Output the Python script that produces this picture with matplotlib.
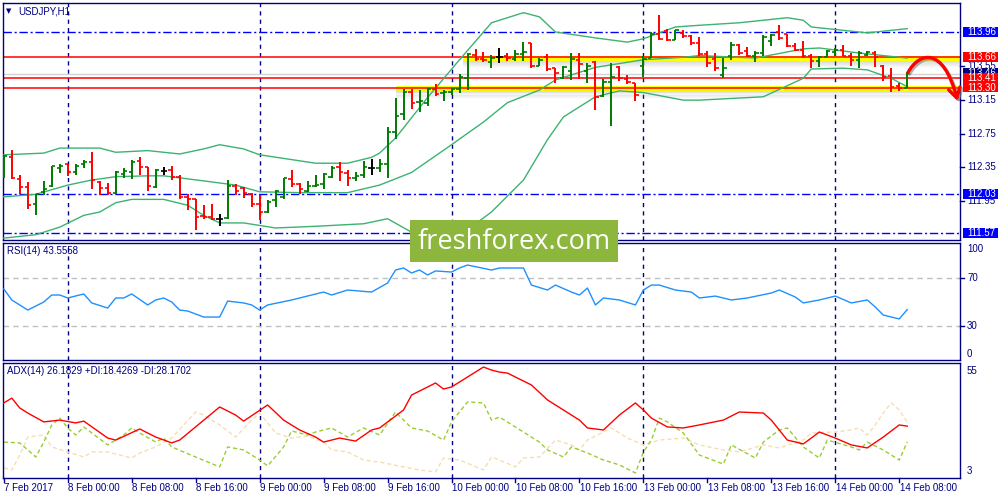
import matplotlib
matplotlib.use('Agg')
import matplotlib.pyplot as plt
import matplotlib.patheffects as pe
from matplotlib.patches import Rectangle, FancyArrowPatch
from matplotlib.path import Path
from matplotlib.transforms import blended_transform_factory
import numpy as np

plt.rcParams['font.family'] = ['Liberation Sans', 'DejaVu Sans']

symbol = 'USDJPY,H1'
rsi_title = 'RSI(14) 43.5558'
adx_title = 'ADX(14) 26.1829 +DI:18.4269 -DI:28.1702'

# hourly bars, 7 Feb 16:00 .. 14 Feb 09:00
opens = [112.26, 112.47, 112.21, 112.12, 111.91, 112.06, 112.13, 112.34, 112.39, 112.30,
         112.39, 112.41, 112.18, 112.11, 112.04, 112.27, 112.30, 112.43, 112.35, 112.12,
         112.31, 112.32, 112.24, 112.00, 111.97, 111.77, 111.76, 111.74, 111.75, 112.13,
         112.10, 112.03, 111.92, 111.82, 111.96, 112.00, 112.21, 112.15, 112.07, 112.13,
         112.15, 112.24, 112.35, 112.28, 112.23, 112.26, 112.34, 112.34, 112.39, 112.77,
         112.99, 113.25, 113.13, 113.12, 113.28, 113.23, 113.25, 113.28, 113.41, 113.69,
         113.64, 113.60, 113.66, 113.68, 113.64, 113.70, 113.83, 113.55, 113.66, 113.53,
         113.41, 113.50, 113.63, 113.50, 113.60, 113.20, 113.36, 113.54, 113.40, 113.35,
         113.55, 113.65, 113.94, 113.97, 113.87, 113.95, 113.91, 113.83, 113.70, 113.64,
         113.45, 113.67, 113.81, 113.73, 113.67, 113.71, 113.85, 113.96, 113.94, 113.79,
         113.75, 113.67, 113.61, 113.66, 113.72, 113.75, 113.67, 113.63, 113.69, 113.71,
         113.55, 113.44, 113.32, 113.29]
highs = [112.50, 112.56, 112.26, 112.18, 112.03, 112.19, 112.37, 112.39, 112.39, 112.39,
         112.44, 112.53, 112.19, 112.16, 112.31, 112.34, 112.44, 112.47, 112.36, 112.33,
         112.36, 112.37, 112.26, 112.03, 111.97, 111.90, 111.92, 111.80, 112.20, 112.15,
         112.12, 112.04, 112.02, 111.96, 112.08, 112.22, 112.32, 112.17, 112.19, 112.26,
         112.28, 112.37, 112.41, 112.32, 112.29, 112.43, 112.45, 112.45, 112.83, 113.18,
         113.28, 113.28, 113.27, 113.30, 113.34, 113.27, 113.29, 113.46, 113.71, 113.76,
         113.72, 113.69, 113.77, 113.71, 113.75, 113.84, 113.83, 113.65, 113.70, 113.53,
         113.55, 113.71, 113.71, 113.59, 113.61, 113.40, 113.59, 113.55, 113.45, 113.35,
         113.67, 113.96, 114.16, 113.99, 113.98, 113.98, 113.92, 113.90, 113.73, 113.71,
         113.65, 113.84, 113.82, 113.78, 113.73, 113.92, 113.94, 114.04, 113.94, 113.83,
         113.85, 113.70, 113.67, 113.75, 113.77, 113.81, 113.71, 113.73, 113.74, 113.73,
         113.57, 113.53, 113.35, 113.49]
lows = [112.23, 112.21, 112.03, 111.85, 111.78, 112.02, 112.12, 112.28, 112.25, 112.26,
        112.34, 112.09, 112.02, 112.02, 112.03, 112.23, 112.21, 112.26, 112.07, 112.11,
        112.26, 112.20, 111.97, 111.84, 111.61, 111.74, 111.72, 111.65, 111.74, 112.02,
        111.99, 111.88, 111.72, 111.81, 111.88, 111.98, 112.12, 112.03, 112.06, 112.12,
        112.09, 112.22, 112.19, 112.13, 112.19, 112.23, 112.26, 112.29, 112.22, 112.69,
        112.91, 113.05, 113.01, 113.08, 113.20, 113.14, 113.21, 113.24, 113.27, 113.61,
        113.60, 113.53, 113.59, 113.62, 113.61, 113.61, 113.53, 113.55, 113.50, 113.35,
        113.40, 113.39, 113.40, 113.35, 113.03, 113.19, 112.84, 113.38, 113.34, 113.14,
        113.43, 113.65, 113.86, 113.85, 113.87, 113.89, 113.81, 113.67, 113.54, 113.50,
        113.41, 113.63, 113.69, 113.66, 113.60, 113.67, 113.79, 113.87, 113.78, 113.73,
        113.65, 113.53, 113.54, 113.66, 113.67, 113.67, 113.55, 113.53, 113.67, 113.54,
        113.38, 113.25, 113.26, 113.29]
closes = [112.48, 112.22, 112.12, 111.90, 112.03, 112.09, 112.37, 112.37, 112.30, 112.37,
          112.41, 112.20, 112.11, 112.04, 112.29, 112.31, 112.42, 112.35, 112.13, 112.32,
          112.31, 112.24, 112.00, 111.98, 111.76, 111.76, 111.74, 111.74, 112.13, 112.07,
          112.05, 111.92, 111.82, 111.94, 112.07, 112.22, 112.15, 112.09, 112.13, 112.14,
          112.27, 112.34, 112.29, 112.22, 112.25, 112.36, 112.34, 112.39, 112.77, 112.96,
          113.25, 113.12, 113.14, 113.28, 113.22, 113.25, 113.28, 113.43, 113.70, 113.64,
          113.63, 113.65, 113.66, 113.65, 113.70, 113.72, 113.55, 113.63, 113.52, 113.47,
          113.54, 113.64, 113.58, 113.56, 113.19, 113.36, 113.42, 113.41, 113.36, 113.21,
          113.64, 113.94, 113.88, 113.86, 113.98, 113.91, 113.83, 113.70, 113.59, 113.53,
          113.53, 113.81, 113.71, 113.67, 113.71, 113.90, 113.92, 113.89, 113.79, 113.75,
          113.67, 113.61, 113.66, 113.74, 113.75, 113.67, 113.63, 113.71, 113.72, 113.66,
          113.43, 113.31, 113.30, 113.46]

# Bollinger bands (bar index, price)
bb_up_x = [0, 5, 7, 12, 14, 18, 22, 25, 27, 30, 32, 39, 43, 46, 47, 49, 53, 57, 61, 65, 67,
           69, 74, 78, 80, 84, 87, 92, 98, 100, 101, 105, 108, 111, 113]
bb_up = [112.50, 112.52, 112.58, 112.58, 112.53, 112.55, 112.51, 112.57, 112.62, 112.57,
         112.50, 112.40, 112.40, 112.47, 112.52, 112.70, 113.18, 113.63, 114.07, 114.19,
         114.14, 113.96, 113.89, 113.84, 113.88, 114.02, 114.04, 114.07, 114.13, 114.10,
         114.02, 113.98, 113.95, 113.98, 114.00]
bb_mid_x = [0, 4, 8, 11, 14, 18, 20, 25, 29, 32, 37, 43, 47, 51, 56, 60, 63, 67, 69, 74,
            80, 85, 87, 94, 100, 102, 107, 113]
bb_mid = [112.00, 112.03, 112.14, 112.20, 112.24, 112.25, 112.25, 112.19, 112.14, 112.06,
          112.05, 112.05, 112.14, 112.29, 112.62, 112.89, 113.12, 113.27, 113.39, 113.54,
          113.63, 113.66, 113.68, 113.65, 113.76, 113.77, 113.71, 113.65]
bb_low_x = [0, 4, 7, 10, 12, 14, 16, 20, 23, 25, 27, 30, 34, 39, 45, 48, 51, 55, 58, 61,
            65, 68, 70, 74, 77, 80, 85, 87, 95, 100, 101, 105, 108, 111, 113]
bb_low = [111.51, 111.55, 111.64, 111.78, 111.82, 111.93, 111.97, 111.97, 111.90, 111.78,
          111.69, 111.69, 111.63, 111.65, 111.68, 111.74, 111.58, 111.46, 111.61, 111.82,
          112.20, 112.68, 112.95, 113.19, 113.26, 113.24, 113.15, 113.15, 113.19, 113.41,
          113.52, 113.53, 113.51, 113.41, 113.31]

rsi_x = [0, 1, 3, 5, 6, 7, 8, 10, 11, 13, 14, 15, 16, 18, 19, 20, 21, 22, 23, 25, 27, 28,
         30, 31, 32, 33, 36, 37, 40, 41, 43, 46, 48, 49, 50, 51, 52, 53, 54, 56, 57, 58, 61,
         62, 65, 66, 68, 69, 71, 72, 73, 74, 75, 77, 79, 80, 81, 82, 84, 86, 87, 89, 91, 93,
         96, 97, 99, 100, 102, 104, 106, 108, 109, 110, 112, 113]
rsi = [61.0, 51.7, 43.2, 50.0, 55.9, 55.9, 53.4, 56.8, 49.2, 44.9, 53.4, 53.4, 56.8, 47.5,
       51.7, 53.4, 50.0, 43.2, 42.4, 37.3, 37.3, 50.8, 49.2, 47.5, 43.2, 47.5, 51.7, 53.4,
       58.4, 55.9, 60.1, 58.4, 66.0, 77.0, 78.7, 74.5, 77.0, 72.8, 76.2, 75.3, 78.7, 81.2,
       77.0, 78.7, 78.7, 64.3, 60.1, 64.3, 58.4, 55.9, 61.8, 47.5, 53.4, 51.7, 47.5, 60.1,
       64.3, 64.3, 60.1, 58.4, 53.4, 55.0, 51.7, 53.4, 57.6, 60.1, 54.2, 49.2, 51.7, 55.0,
       49.2, 51.7, 45.8, 39.0, 35.7, 43.6]

adx_x = [0, 1, 2, 3, 5, 7, 9, 10, 13, 14, 17, 19, 21, 22, 27, 29, 30, 33, 35, 37, 39, 40,
         42, 44, 46, 47, 50, 51, 54, 55, 56, 60, 61, 62, 63, 66, 68, 70, 72, 73, 75, 77, 79,
         80, 81, 83, 85, 87, 90, 92, 95, 96, 98, 100, 101, 102, 104, 106, 108, 110, 112, 113]
adx = [37.7, 40.1, 35.2, 32.7, 28.3, 29.2, 27.8, 28.7, 20.3, 19.3, 24.8, 20.8, 17.9, 19.3,
       35.7, 31.7, 28.7, 36.7, 29.2, 24.3, 20.8, 18.3, 20.3, 18.8, 24.3, 25.3, 34.2, 41.6,
       47.6, 44.6, 45.6, 55.5, 54.0, 53.0, 52.5, 46.6, 39.2, 34.2, 29.2, 25.3, 24.3, 31.7,
       37.7, 34.2, 30.2, 25.8, 25.3, 26.8, 29.2, 33.2, 32.7, 29.2, 19.3, 17.4, 20.3, 23.3,
       20.3, 16.9, 15.4, 20.8, 26.8, 26.2]
pdi_x = [0, 2, 4, 5, 6, 7, 8, 9, 10, 13, 15, 16, 17, 19, 20, 21, 24, 27, 28, 30, 32, 33,
         35, 36, 38, 39, 41, 43, 45, 47, 49, 51, 53, 55, 56, 58, 60, 61, 62, 67, 68, 70, 71,
         73, 75, 77, 79, 80, 81, 82, 83, 85, 87, 90, 91, 94, 95, 97, 98, 100, 102, 103, 106,
         107, 108, 110, 112, 113]
pdi = [18.3, 17.9, 10.9, 18.3, 26.8, 30.2, 25.3, 21.8, 25.8, 16.9, 21.8, 25.3, 22.8, 18.3,
       20.3, 15.9, 10.9, 6.0, 15.9, 14.4, 9.4, 6.5, 15.9, 23.8, 21.8, 23.3, 25.3, 20.8, 25.3,
       21.8, 33.2, 25.3, 23.8, 19.3, 28.3, 38.2, 37.7, 29.2, 30.7, 18.3, 14.4, 10.9, 15.9,
       12.9, 9.4, 7.0, 3.0, 13.4, 19.3, 30.2, 28.3, 22.8, 11.9, 7.4, 16.9, 10.4, 18.3, 24.3,
       25.3, 15.9, 10.4, 19.3, 15.9, 14.4, 18.3, 14.4, 9.4, 18.4]
mdi_x = [0, 1, 2, 3, 5, 6, 8, 10, 11, 13, 16, 17, 19, 21, 24, 25, 27, 29, 31, 32, 34, 36,
         38, 40, 41, 43, 45, 47, 50, 52, 54, 55, 57, 60, 61, 62, 64, 65, 67, 69, 71, 72, 73,
         75, 76, 78, 80, 82, 85, 87, 90, 92, 95, 97, 100, 101, 104, 106, 107, 108, 109, 110,
         111, 112, 113]
mdi = [5.5, 4.5, 11.9, 20.8, 21.8, 15.9, 13.4, 10.9, 13.4, 13.4, 10.4, 12.9, 15.9, 20.3,
       33.2, 31.7, 26.8, 20.8, 29.2, 32.7, 22.8, 20.3, 21.3, 18.3, 14.4, 13.4, 9.4, 8.4, 6.0,
       4.5, 3.5, 10.4, 9.4, 4.5, 10.9, 9.4, 6.0, 10.4, 10.9, 19.3, 16.9, 14.4, 19.3, 23.3,
       25.3, 20.3, 16.9, 19.3, 20.3, 16.9, 14.4, 13.4, 16.9, 15.4, 19.3, 22.8, 23.3, 24.3,
       25.3, 21.8, 26.8, 32.7, 37.7, 34.2, 28.2]

day_starts = [8, 32, 56, 80, 104]
time_labels = ['7 Feb 2017', '8 Feb 00:00', '8 Feb 08:00', '8 Feb 16:00', '9 Feb 00:00',
               '9 Feb 08:00', '9 Feb 16:00', '10 Feb 00:00', '10 Feb 08:00', '10 Feb 16:00',
               '13 Feb 00:00', '13 Feb 08:00', '13 Feb 16:00', '14 Feb 00:00', '14 Feb 08:00']
time_label_x = [0, 8, 16, 24, 32, 40, 48, 56, 64, 72, 80, 88, 96, 104, 112]

price_ticks = [113.55, 113.15, 112.75, 112.35, 111.95]
blue_levels = [113.96, 112.03, 111.57]
red_levels = [113.66, 113.41, 113.30]
bid = 113.46

navy = '#000080'
bar_green = '#007a00'
band_col = '#3cb371'

fig = plt.figure(figsize=(10, 5), dpi=100)


def panel(top, bottom):
    ax = fig.add_axes([3 / 1000, 1 - bottom / 500, 957 / 1000, (bottom - top) / 500])
    ax.set_xlim(-0.1, 119.6)
    ax.set_xticks([])
    ax.set_yticks([])
    for s in ax.spines.values():
        s.set_color(navy)
        s.set_linewidth(1)
    for d in day_starts:
        ax.axvline(d, color=navy, lw=1, ls=(0, (3, 3)), zorder=1)
    return ax


ax_p = panel(3, 240)
ax_r = panel(243, 360)
ax_a = panel(363, 478)

# ---- price panel
ax_p.set_ylim(111.487, 114.305)
tr_p = blended_transform_factory(ax_p.transAxes, ax_p.transData)

for lv in blue_levels:
    ax_p.axhline(lv, color='#0000ff', lw=1, ls=(0, (6, 2, 1.5, 2)), zorder=2)
ax_p.axhline(bid, color='#d3d3d3', lw=1, zorder=2)

# highlighted zones with a soft shadow
for lv, x0 in [(113.66, 57.4), (113.30, 49)]:
    for k in range(8):
        ax_p.hlines(lv - 0.035 - k * 0.012, x0, 119.6, color='gray', lw=1.2,
                    alpha=0.22 * (1 - k / 8), zorder=2)
    ax_p.hlines(lv - 0.01, x0, 119.6, color='#ffff00', lw=3.6, zorder=2)
for lv in red_levels:
    ax_p.axhline(lv, color='#ff0000', lw=1.1, zorder=2.5)

ax_p.plot(bb_up_x, bb_up, color=band_col, lw=1, zorder=2.6)
ax_p.plot(bb_mid_x, bb_mid, color=band_col, lw=1, zorder=2.6)
ax_p.plot(bb_low_x, bb_low, color=band_col, lw=1, zorder=2.6)

idx = np.arange(len(opens))
o = np.array(opens)
c = np.array(closes)
cols = np.where(c > o, bar_green, np.where(c < o, '#ff0000', '#000000'))
ax_p.vlines(idx, lows, highs, colors=cols, lw=1.4, zorder=3)
ax_p.hlines(o, idx - 0.4, idx, colors=cols, lw=1.2, zorder=3)
ax_p.hlines(c, idx, idx + 0.4, colors=cols, lw=1.2, zorder=3)

# curved forecast arrow
arrow_path = Path([(113.1, 113.48), (114.5, 113.72), (117.5, 113.80), (119.3, 113.14)],
                  [Path.MOVETO, Path.CURVE4, Path.CURVE4, Path.CURVE4])
arr = FancyArrowPatch(path=arrow_path, arrowstyle='->,head_length=0.5,head_width=0.3',
                      mutation_scale=14, color='#ff0000', lw=2.4, clip_on=False, zorder=6,
                      path_effects=[pe.SimpleLineShadow(offset=(1.2, -1.2),
                                                        shadow_color='gray', alpha=0.6),
                                    pe.Normal()])
ax_p.add_patch(arr)

# right scale
for v in price_ticks:
    ax_p.plot([1, 1.004], [v, v], color=navy, lw=1, transform=tr_p, clip_on=False)
    ax_p.text(1.0073, v, '%.2f' % v, transform=tr_p, fontsize=7, color=navy,
              va='center', ha='left', zorder=6)


def level_box(v, col, z, txt=None):
    ax_p.add_patch(Rectangle((1.0031, v - 0.058), 0.0366, 0.116, transform=tr_p,
                             facecolor=col, edgecolor='none', clip_on=False, zorder=z))
    ax_p.text(1.0073, v, txt or '%.2f' % v, transform=tr_p, fontsize=7, color='white',
              va='center', ha='left', zorder=z + 0.5, clip_on=False)


level_box(bid + 0.01, navy, 7, '113.46')
level_box(113.96, '#0000ff', 8)
level_box(113.66, '#ff0000', 8)
level_box(113.41, '#ff0000', 9)
level_box(113.30, '#ff0000', 10)
level_box(112.03, '#0000ff', 8)
level_box(111.57, '#0000ff', 8)

fig.text(9 / 1000, 1 - 11 / 500, '\u25bc', fontsize=5, color=navy, family='DejaVu Sans',
         va='center', ha='center')
fig.text(18 / 1000, 1 - 11 / 500, symbol, fontsize=7, color=navy, va='center')

# ---- RSI panel
ax_r.set_ylim(1.05, 99.8)
for lv in (70, 30):
    ax_r.axhline(lv, color='#c0c0c0', lw=1, ls=(0, (4, 3)), zorder=1.5)
ax_r.plot(rsi_x, rsi, color='#1e90ff', lw=1, zorder=3)
tr_r = blended_transform_factory(ax_r.transAxes, ax_r.transData)
for v, txt in [(94.5, '100'), (70, '70'), (30, '30'), (6.5, '0')]:
    ax_r.text(1.0073, v, txt, transform=tr_r, fontsize=7, color=navy, va='center')
for v in (70, 30):
    ax_r.plot([1, 1.004], [v, v], color=navy, lw=1, transform=tr_r, clip_on=False)
fig.text(7 / 1000, 1 - 251 / 500, rsi_title, fontsize=7, color=navy, va='center')

# ---- ADX panel
ax_a.set_ylim(0.5, 57.5)
ax_a.plot(mdi_x, mdi, color='#f5deb3', lw=1, ls=(0, (3, 2)), zorder=2)
ax_a.plot(pdi_x, pdi, color='#9acd32', lw=1, ls=(0, (3, 2)), zorder=2.2)
ax_a.plot(adx_x, adx, color='#ff0000', lw=1, zorder=3)
tr_a = blended_transform_factory(ax_a.transAxes, ax_a.transData)
ax_a.text(1.0073, 53.5, '55', transform=tr_a, fontsize=7, color=navy, va='center')
ax_a.text(1.0073, 4.0, '3', transform=tr_a, fontsize=7, color=navy, va='center')
fig.text(7 / 1000, 1 - 371 / 500, adx_title, fontsize=7, color=navy, va='center')

# time axis
tr_t = blended_transform_factory(ax_a.transData, ax_a.transAxes)
for xi, lab in zip(time_label_x, time_labels):
    ax_a.plot([xi, xi], [0, -0.035], color=navy, lw=1, transform=tr_t, clip_on=False)
    ax_a.text(xi + 0.05, -0.087, lab, transform=tr_t, fontsize=7, color=navy,
              va='center', ha='left')

# watermark
fig.add_artist(Rectangle((410 / 1000, 1 - 262 / 500), 208 / 1000, 42 / 500,
                         transform=fig.transFigure, facecolor='#8cb63c',
                         edgecolor='none', zorder=10))
fig.text(514 / 1000, 1 - 242 / 500, 'freshforex.com', family='Open Sans', fontsize=19.5,
         color='white', ha='center', va='center', zorder=11)

fig.savefig('out.png', dpi=100)
